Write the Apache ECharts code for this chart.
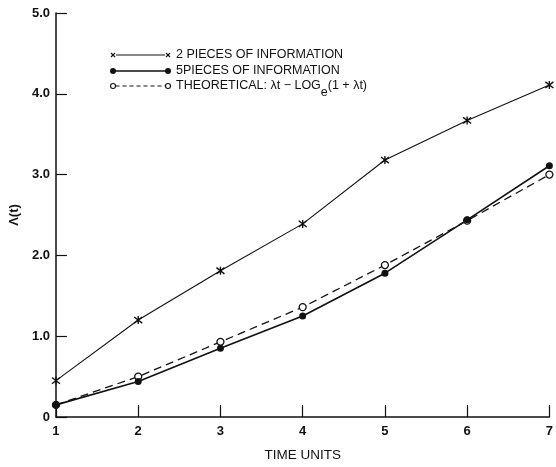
<!DOCTYPE html>
<html>
<head>
<meta charset="utf-8">
<script src="https://cdn.jsdelivr.net/npm/echarts@6/dist/echarts.min.js"></script>
<style>html,body{margin:0;padding:0;background:#fff;}#c{width:556px;height:467px;}</style>
</head>
<body>
<div id="c"></div>
<script>
var timeUnits = [1, 2, 3, 4, 5, 6, 7];
var twoPieces = [0.45, 1.20, 1.81, 2.39, 3.18, 3.67, 4.11];
var fivePieces = [0.15, 0.44, 0.85, 1.25, 1.78, 2.44, 3.11];
var theoretical = [0.15, 0.50, 0.93, 1.36, 1.88, 2.43, 3.00];
var yTicks = ['0', '1.0', '2.0', '3.0', '4.0', '5.0'];
var legendLabels = ['2 PIECES OF INFORMATION', '5PIECES OF INFORMATION', 'THEORETICAL: λt − LOG', 'e', '(1 + λt)'];

function pairs(xs, ys) { return xs.map(function (x, i) { return [x, ys[i]]; }); }

var FONT = 'Liberation Sans';
var INK = '#111';
var star = 'path://M0,0 L10,10 M10,0 L0,10 M5,-1.5 L5,11.5';

function xMark(cx, cy, h) {
  return [
    {type: 'line', shape: {x1: cx - h, y1: cy - h, x2: cx + h, y2: cy + h}, style: {stroke: INK, lineWidth: 1.1}},
    {type: 'line', shape: {x1: cx + h, y1: cy - h, x2: cx - h, y2: cy + h}, style: {stroke: INK, lineWidth: 1.1}}
  ];
}

var chart = echarts.init(document.getElementById('c'), null, {renderer: 'canvas'});
var L = {x0: 113, x1: 168, tx: 176, rows: [55, 71, 86]};
var LF = '12.5px ' + FONT;

var legendGraphics = [].concat(
  [{type: 'line', shape: {x1: L.x0 + 3, y1: L.rows[0], x2: L.x1 - 3, y2: L.rows[0]}, style: {stroke: INK, lineWidth: 1.1}}],
  xMark(L.x0, L.rows[0], 2),
  xMark(L.x1, L.rows[0], 2),
  [
    {type: 'text', x: L.tx, y: L.rows[0], style: {text: legendLabels[0], font: LF, fill: INK, verticalAlign: 'middle'}},
    {type: 'line', shape: {x1: L.x0, y1: L.rows[1], x2: L.x1, y2: L.rows[1]}, style: {stroke: INK, lineWidth: 1.6}},
    {type: 'circle', shape: {cx: L.x0, cy: L.rows[1], r: 3}, style: {fill: INK}},
    {type: 'circle', shape: {cx: L.x1, cy: L.rows[1], r: 3}, style: {fill: INK}},
    {type: 'text', x: L.tx, y: L.rows[1], style: {text: legendLabels[1], font: LF, fill: INK, verticalAlign: 'middle'}},
    {type: 'line', shape: {x1: L.x0 + 2.5, y1: L.rows[2], x2: L.x1 - 2.5, y2: L.rows[2]}, style: {stroke: INK, lineWidth: 1.2, lineDash: [4, 3]}},
    {type: 'circle', shape: {cx: L.x0, cy: L.rows[2], r: 2.5}, style: {fill: '#fff', stroke: INK, lineWidth: 1.1}},
    {type: 'circle', shape: {cx: L.x1, cy: L.rows[2], r: 2.5}, style: {fill: '#fff', stroke: INK, lineWidth: 1.1}},
    {type: 'text', x: L.tx, y: L.rows[2], style: {
      text: '{a|' + legendLabels[2] + '}{s|' + legendLabels[3] + '}{a|' + legendLabels[4] + '}',
      fill: INK, verticalAlign: 'middle',
      rich: {
        a: {fontFamily: FONT, fontSize: 12.5, fill: INK, lineHeight: 14, verticalAlign: 'top'},
        s: {fontFamily: FONT, fontSize: 12.5, fill: INK, lineHeight: 14, padding: [7, 0, 0, 0], verticalAlign: 'top'}
      }
    }}
  ]
);

chart.setOption({
  animation: false,
  backgroundColor: '#fff',
  textStyle: {fontFamily: FONT, color: INK},
  grid: {left: 55, right: 2, top: 13, bottom: 41, containLabel: false},
  xAxis: {
    type: 'value', min: 1, max: 7, interval: 1,
    name: 'TIME UNITS', nameLocation: 'middle', nameGap: 31,
    nameTextStyle: {fontFamily: FONT, fontSize: 13.5, color: INK},
    axisLine: {show: true, onZero: false, lineStyle: {color: INK, width: 1.5}},
    axisTick: {show: true, inside: true, length: 12, lineStyle: {color: INK, width: 1.2}},
    axisLabel: {fontFamily: FONT, fontSize: 13, fontWeight: 'bold', color: INK, margin: 8},
    splitLine: {show: false}
  },
  yAxis: {
    type: 'value', min: 0, max: 5, interval: 1,
    name: 'Λ(t)', nameLocation: 'middle', nameGap: 32, nameRotate: 90,
    nameTextStyle: {fontFamily: FONT, fontSize: 13, fontWeight: 'bold', color: INK},
    axisLine: {show: true, lineStyle: {color: INK, width: 1.5}},
    axisTick: {show: true, inside: true, length: 11, lineStyle: {color: INK, width: 1.2}},
    axisLabel: {fontFamily: FONT, fontSize: 13, fontWeight: 'bold', color: INK, margin: 6,
      formatter: function (v) { return yTicks[Math.round(v)]; }},
    splitLine: {show: false}
  },
  series: [
    {
      name: legendLabels[0], type: 'line', data: pairs(timeUnits, twoPieces),
      symbol: star, symbolSize: 8, clip: false,
      lineStyle: {color: INK, width: 1.1},
      itemStyle: {color: 'rgba(0,0,0,0)', borderColor: INK, borderWidth: 1.4}
    },
    {
      name: legendLabels[2], type: 'line', data: pairs(timeUnits, theoretical),
      symbol: 'circle', symbolSize: 7, clip: false,
      lineStyle: {color: INK, width: 1.3, type: [8, 5]},
      itemStyle: {color: '#fff', borderColor: INK, borderWidth: 1.3}
    },
    {
      name: legendLabels[1], type: 'line', data: pairs(timeUnits, fivePieces),
      symbol: 'circle', symbolSize: 7, clip: false,
      lineStyle: {color: INK, width: 1.6},
      itemStyle: {color: INK, borderColor: INK, borderWidth: 0}
    }
  ],
  graphic: legendGraphics
});
</script>
</body>
</html>
